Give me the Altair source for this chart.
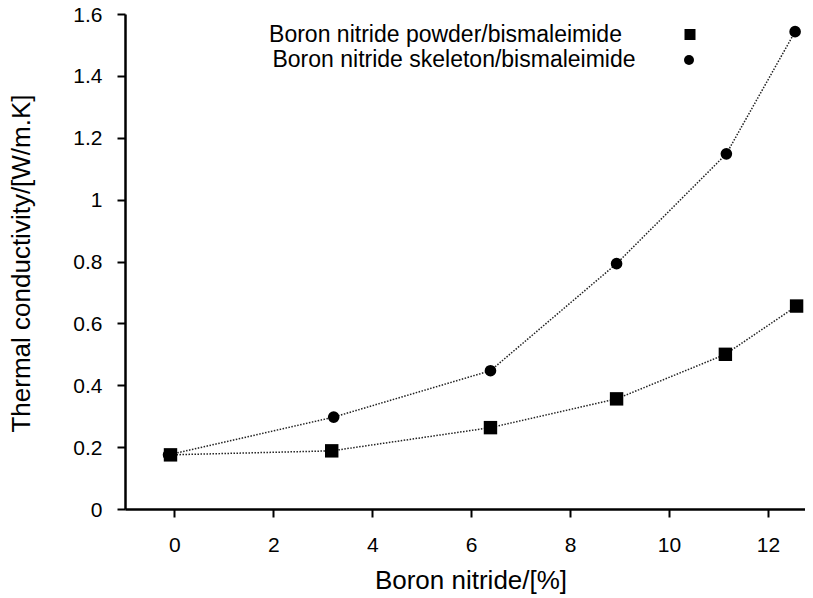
import altair as alt
import pandas as pd

# Data
x_powder = [-0.08, 3.18, 6.39, 8.94, 11.14, 12.58]
y_powder = [0.175, 0.188, 0.263, 0.356, 0.50, 0.656]
x_skeleton = [-0.12, 3.22, 6.39, 8.94, 11.16, 12.55]
y_skeleton = [0.175, 0.297, 0.447, 0.793, 1.148, 1.543]

series_names = ["Boron nitride powder/bismaleimide", "Boron nitride skeleton/bismaleimide"]
x_ticks = [0, 2, 4, 6, 8, 10, 12]
y_ticks = [0, 0.2, 0.4, 0.6, 0.8, 1, 1.2, 1.4, 1.6]

FONT = "Liberation Sans"

df_p = pd.DataFrame({"x": x_powder, "y": y_powder, "s": series_names[0]})
df_s = pd.DataFrame({"x": x_skeleton, "y": y_skeleton, "s": series_names[1]})

xscale = alt.Scale(domain=[-1, 12.75], nice=False, zero=False)
yscale = alt.Scale(domain=[0, 1.6], nice=False)

xenc = alt.X("x:Q", scale=xscale,
             axis=alt.Axis(values=x_ticks, format="d", title="Boron nitride/[%]",
                           titleX=345.5, titleY=58, labelPadding=17))
yenc = alt.Y("y:Q", scale=yscale,
             axis=alt.Axis(values=y_ticks, format="~g", title="Thermal conductivity/[W/m.K]",
                           titleX=-91, titleY=249, labelPadding=15, labelOffset=1))

def line(df):
    return alt.Chart(df).mark_line(color="#222", strokeWidth=1.5, strokeDash=[1.5, 1.5]).encode(
        x=xenc, y=yenc, order="x:Q")

lines = line(df_s) + line(df_p)
circles = alt.Chart(df_s).mark_point(shape="circle", filled=True, color="black", opacity=1, size=135).encode(x=xenc, y=yenc)
squares = alt.Chart(df_p).mark_point(shape="square", filled=True, color="black", opacity=1, size=180).encode(x=xenc, y=yenc)

# Legend (drawn manually: labels left of symbols)
leg_t1 = alt.Chart(pd.DataFrame({"t": [series_names[0]]})).mark_text(
    font=FONT, fontSize=23, align="center", baseline="middle", color="black").encode(
    text="t:N", x=alt.value(445.5 - 125), y=alt.value(35 - 14))
leg_t2 = alt.Chart(pd.DataFrame({"t": [series_names[1]]})).mark_text(
    font=FONT, fontSize=23, align="center", baseline="middle", color="black").encode(
    text="t:N", x=alt.value(454 - 125), y=alt.value(59.5 - 14))
leg_s1 = alt.Chart(pd.DataFrame({"t": [series_names[0]]})).mark_point(
    shape="square", filled=True, color="black", opacity=1, size=121).encode(
    x=alt.value(690 - 125), y=alt.value(34.5 - 14))
leg_s2 = alt.Chart(pd.DataFrame({"t": [series_names[1]]})).mark_point(
    shape="circle", filled=True, color="black", opacity=1, size=100).encode(
    x=alt.value(689 - 125), y=alt.value(60 - 14))

chart = alt.layer(lines, circles, squares, leg_t1, leg_t2, leg_s1, leg_s2).properties(
    width=680, height=495,
    padding={"left": 117, "top": 6, "right": 0, "bottom": 88},
    autosize=alt.AutoSizeParams(type="none"),
).configure_view(stroke=None).configure_axis(
    grid=False, domainColor="black", domainWidth=2.5, tickColor="black", tickWidth=2,
    tickSize=8, labelFont=FONT, labelFontSize=21, labelColor="black",
    titleFont=FONT, titleFontSize=26, titleFontWeight="normal", titleColor="black",
)

chart.save("out.html", embed_options={"renderer": "svg", "actions": False})
